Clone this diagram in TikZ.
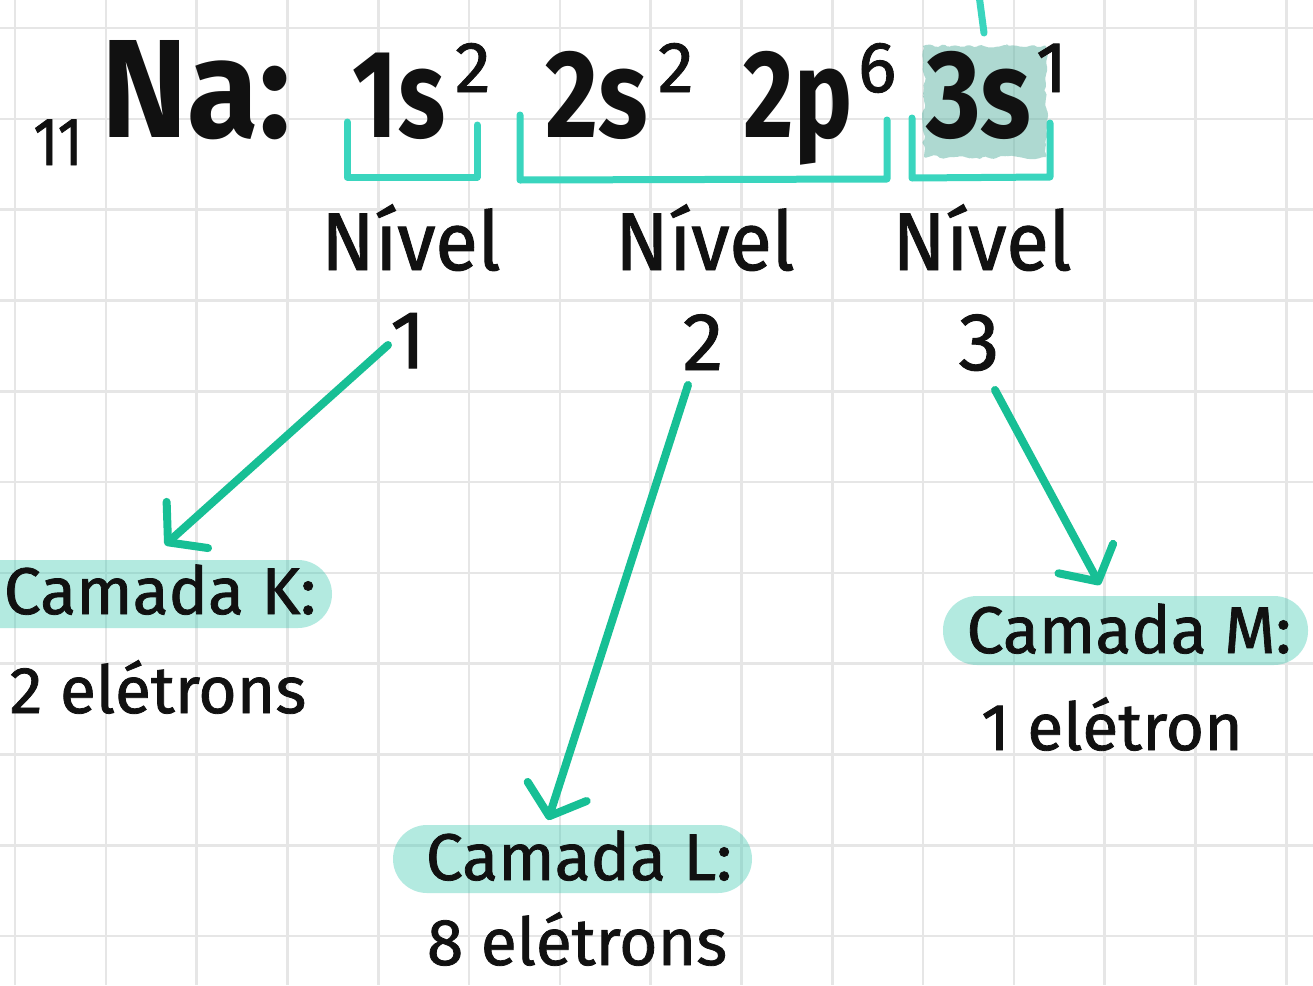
\documentclass[tikz,border=0pt]{standalone}
\usepackage{fontspec}
\setmainfont{Fira Sans}
\newfontfamily\medfont{Fira Sans}[FakeBold=1.2]
\usetikzlibrary{arrows.meta,decorations.pathmorphing}
\definecolor{gridc}{HTML}{E6E6E6}
\definecolor{brk}{HTML}{3AD5BE}
\definecolor{arr}{HTML}{17BF95}
\definecolor{hl}{HTML}{38C9B0}
\definecolor{hlgray}{HTML}{5FB5A5}
\definecolor{ink}{HTML}{111111}
\newcommand{\hsq}[2]{\scalebox{#1}[1]{#2}}
\tikzset{
  gridline/.style={draw=gridc, line width=2.6},
  bracketln/.style={draw=brk, line width=7, line cap=round, line join=round},
  arrowln/.style={draw=arr, line width=8, line cap=round,
    -{Straight Barb[length=26pt,width=62pt,line cap=round,line join=round]}},
  pill/.style={fill=hl, fill opacity=0.38, rounded corners=34},
  txt/.style={inner sep=0, outer sep=0, text=ink},
  big/.style={txt, font=\fontsize{125}{125}\selectfont\bfseries},
  huge/.style={txt, font=\fontsize{140}{140}\selectfont\bfseries},
  supr/.style={txt, font=\fontsize{72}{72}\selectfont\medfont},
  lvl/.style={txt, font=\fontsize{82}{82}\selectfont\medfont},
  cam/.style={txt, font=\fontsize{66}{66}\selectfont\medfont},
}
\begin{document}
\begin{tikzpicture}[x=1pt,y=-1pt]
\useasboundingbox (0,0) rectangle (1313,985);
\clip (0,0) rectangle (1313,985);
\fill[white] (0,0) rectangle (1313,985);
% grid
\foreach \i in {0,...,14} \draw[gridline] ({15+90.8*\i},0) -- ({15+90.8*\i},985);
\foreach \j in {0,...,10} \draw[gridline] (0,{28+90.8*\j}) -- (1313,{28+90.8*\j});

% highlights
\fill[hlgray, fill opacity=0.5, rounded corners=2pt, decorate,
  decoration={random steps,segment length=5pt,amplitude=2.5pt}] (924,46) rectangle (1046,157);
\fill[pill] (-40,560) rectangle (332,628);
\fill[pill] (393,825) rectangle (752,893);
\fill[pill] (943,596) rectangle (1308,665);

% formula
\node[txt, anchor=base, font=\fontsize{68}{68}\selectfont\medfont] (sub) at (58,165) {\hsq{0.85}{11}};
\node[huge, anchor=base] (na) at (196,137) {\hsq{0.93}{Na:}};
\node[big, anchor=base] (o1) at (399,137) {\hsq{0.78}{1s}};
\node[supr, anchor=base west] (s1) at (455,92) {2};
\node[big, anchor=base] (o2) at (597,137) {\hsq{0.82}{2s}};
\node[supr, anchor=base west] (s2) at (658,92) {2};
\node[big, anchor=base] (o3) at (798,137) {\hsq{0.78}{2p}};
\node[supr, anchor=base west] (s3) at (858,92) {6};
\node[big, anchor=base] (o4) at (979,137) {\hsq{0.84}{3s}};
\node[supr, anchor=base west] (s4) at (1036,92) {1};

% brackets
\draw[bracketln] (347,122) -- (347,177) -- (477,177) -- (477,125);
\draw[bracketln] (520,115) -- (520,180) -- (887,179) -- (887,120);
\draw[bracketln] (912,118) -- (912,178) -- (1050,177) -- (1050,123);

% top fragment
\coordinate (f1) at (979,-5);
\coordinate (f2) at (984,33);
\draw[bracketln] (f1) -- (f2);

% levels
\node[lvl, anchor=base] (n1) at (411,270) {\hsq{0.95}{Nível}};
\node[lvl, anchor=base] (n2) at (705,270) {\hsq{0.95}{Nível}};
\node[lvl, anchor=base] (n3) at (982,270) {\hsq{0.95}{Nível}};
\node[lvl, anchor=base] (d1) at (408,368) {1};
\node[lvl, anchor=base] (d2) at (703,370) {2};
\node[lvl, anchor=base] (d3) at (979,370) {3};

% shells
\node[cam, anchor=base] (ck) at (160,614) {Camada K:};
\node[cam, anchor=base] (ek) at (158,713) {2 elétrons};
\node[cam, anchor=base] (cl) at (579,880) {Camada L:};
\node[cam, anchor=base] (el) at (577,965) {8 elétrons};
\node[cam, anchor=base] (cm) at (1129,653) {Camada M:};
\node[cam, anchor=base] (em) at (1112,750) {1 elétron};

% arrows
\coordinate (a1s) at (388,345);
\coordinate (a1e) at (165,545);
\coordinate (a2s) at (688,385);
\coordinate (a2e) at (548,820);
\coordinate (a3s) at (995,390);
\coordinate (a3e) at (1100,585);
\draw[arrowln] (a1s) -- (a1e);
\draw[arrowln] (a2s) -- (a2e);
\draw[arrowln] (a3s) -- (a3e);
\end{tikzpicture}
\end{document}
